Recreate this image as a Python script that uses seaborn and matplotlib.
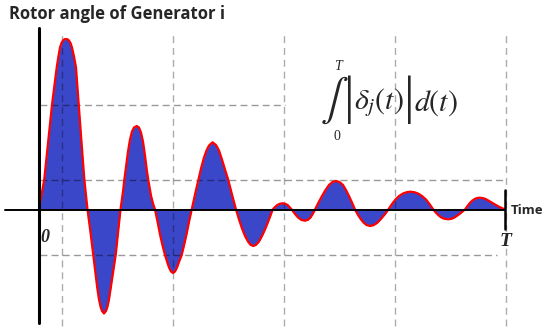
import matplotlib
matplotlib.use("Agg")
import matplotlib.pyplot as plt
import numpy as np
import pandas as pd
import seaborn as sns

# rotor angle trace (time, angle), arbitrary units
time_pts = [
    0, 5.3, 9, 13, 15.5, 17.7, 19.5, 21, 22.5, 24, 25.5, 27, 28.5, 30,
    31.5, 33, 35, 37, 38.5, 42.5, 45.3, 48.5,
    51.5, 54.3, 56.5, 58.3, 60, 61.5, 63, 65, 67, 68.5, 70, 71.7, 74,
    76.7, 79, 81.5,
    84, 85.3, 87, 89, 91, 93, 95, 97.7, 100, 102, 104, 106, 108, 109.3,
    112, 114, 116,
    118.5, 121, 123.5, 126, 128, 130, 132, 134, 136, 138, 140, 142.7,
    145, 147.5, 150, 152.7,
    156, 159.3, 162, 165, 167.5, 170, 173.5, 177, 180, 183, 186, 189.3,
    193, 197,
    200, 203, 206, 209, 211.5, 214.3, 217, 220, 223, 226, 230, 233.7,
    236, 238.5, 241, 243.7, 246, 248.5, 250.5, 252.7,
    256, 259, 262.5, 266, 269, 271.5, 274, 276,
    279.5, 283, 286.5, 290, 293.5, 297, 300.5, 304, 307, 310, 313, 316,
    319, 322, 324.5, 327.5, 331, 334.5, 338, 341, 344, 346.5, 349.3,
    353, 356.5, 360, 364, 368, 371.7, 375.5, 379.5, 383, 387, 390.5, 394.3,
    397, 399.5, 402, 405, 409.3, 412.5, 415.5, 418, 420.5, 423, 426,
    428.5, 431, 433.5, 436, 438.5, 441, 444, 447, 450, 453, 456, 459,
    462.5, 466,
]
angle_pts = [
    0, 30.5, 66, 104.8, 125, 142, 153.5, 162, 166.5, 169, 170.3, 170.5,
    170.2, 169, 166.5, 162, 153, 142, 121.5, 67.5, 30.5, 0,
    -23, -45.5, -64, -78.8, -90, -97, -101.5, -104, -101.5, -97, -90,
    -78.8, -63, -45.5, -24, 0,
    18, 29.5, 43, 58, 70, 78, 82, 83.5, 82, 77, 68, 54, 38, 29.5,
    14, 6, 0,
    -12, -25, -36, -45.5, -52, -58, -62, -63.5, -62, -58, -52.5, -45.5,
    -36, -25, -12.5, 0,
    15, 29.5, 41, 52, 59, 64, 67.2, 64.5, 59, 50, 40, 29.5,
    15, 0,
    -10, -19, -26.5, -32, -35.3, -36.5, -35.3, -32, -26.5, -20, -10, 0,
    2.5, 4.6, 5.8, 6.2, 5.8, 4.6, 2.5, 0,
    -4.5, -8, -10.5, -11.2, -10.3, -8, -4, 0,
    7, 13.5, 19.5, 24.5, 27.5, 28.5, 27.5, 24.5, 19.5, 13.5, 7, 0,
    -5.5, -10, -13, -15.5, -16.5, -15.7, -13.5, -10.5, -7, -4, 0,
    5.5, 10, 13.5, 16, 17.4, 17.8, 17.3, 15.8, 13.5, 10, 5.5, 0,
    -3.3, -5.8, -7.8, -9.2, -9.8, -9.3, -8, -6.3, -4.5, -2.5, 0,
    3.5, 6.7, 9, 10.7, 11.6, 11.8, 11.4, 10.3, 8.6, 6.8, 5, 3.3,
    1.6, 0,
]

# dashed guide lines
guide_times = [23, 134, 245, 356, 467]
guide_levels = [104.5, 29.5, -45.5]
guide_level_ends = [246, 467, 458]
T_end = 466

df = pd.DataFrame({"time": time_pts, "angle": angle_pts})

sns.set_theme(style="white")
plt.rcParams["mathtext.fontset"] = "stix"

fig = plt.figure(figsize=(5.5, 3.32), dpi=100)
ax = fig.add_axes([0, 0, 1, 1])
ax.set_xlim(-39, 511)
ax.set_ylim(-122.5, 209.5)
ax.axis("off")

ax.fill_between(df["time"], 0, df["angle"], color="#3b47c9", linewidth=0, zorder=1)
sns.lineplot(data=df, x="time", y="angle", color="#ff0000", linewidth=1.6,
             estimator=None, sort=False, ax=ax, zorder=3)

for t in guide_times:
    ax.plot([t, t], [-116.5, 177.5], color="black", alpha=0.33, lw=1.0,
            ls=(0, (5, 3.5)), zorder=2)
for lev, end in zip(guide_levels, guide_level_ends):
    ax.plot([1, end], [lev, lev], color="black", alpha=0.4, lw=1.0,
            ls=(0, (5, 3)), zorder=2)

# axes
ax.plot([0, 0], [-113.5, 181.5], color="black", lw=2.2, zorder=4)
ax.plot([-34, T_end], [0, 0], color="black", lw=1.4, zorder=4)
ax.plot([T_end, T_end], [-19.5, 19.5], color="black", lw=1.8, zorder=4)


def fpos(px, py):
    return px / 550, 1 - py / 332


fig.text(*fpos(9, 14), "Rotor angle of Generator i", fontsize=12,
         fontweight="bold", family="Open Sans", ha="left", va="center")
fig.text(*fpos(511, 210), "Time", fontsize=9.5, fontweight="bold",
         family="Open Sans", ha="left", va="center")
fig.text(*fpos(45, 237), "0", fontsize=13, fontweight="bold", style="italic",
         family="Liberation Serif", ha="center", va="center")
fig.text(*fpos(506, 241), "T", fontsize=14, fontweight="bold", style="italic",
         family="Liberation Serif", ha="center", va="center")

# formula
fig.text(*fpos(334.5, 100), r"$\int$", fontsize=30, ha="center", va="center")
fig.text(*fpos(338, 67), "T", fontsize=10, style="italic",
         family="Liberation Serif", ha="center", va="center")
fig.text(*fpos(337, 137), "0", fontsize=10, family="Liberation Serif",
         ha="center", va="center")
fig.text(*fpos(349.5, 100), "|", fontsize=38, family="Liberation Serif",
         ha="center", va="center")
fig.text(*fpos(409, 100), "|", fontsize=38, family="Liberation Serif",
         ha="center", va="center")
fig.text(*fpos(354, 103), r"$\delta_j(t)$", fontsize=21.5, ha="left", va="center")
fig.text(*fpos(414, 103), r"$d(t)$", fontsize=21.5, ha="left", va="center")

fig.savefig("out.png", dpi=100)
